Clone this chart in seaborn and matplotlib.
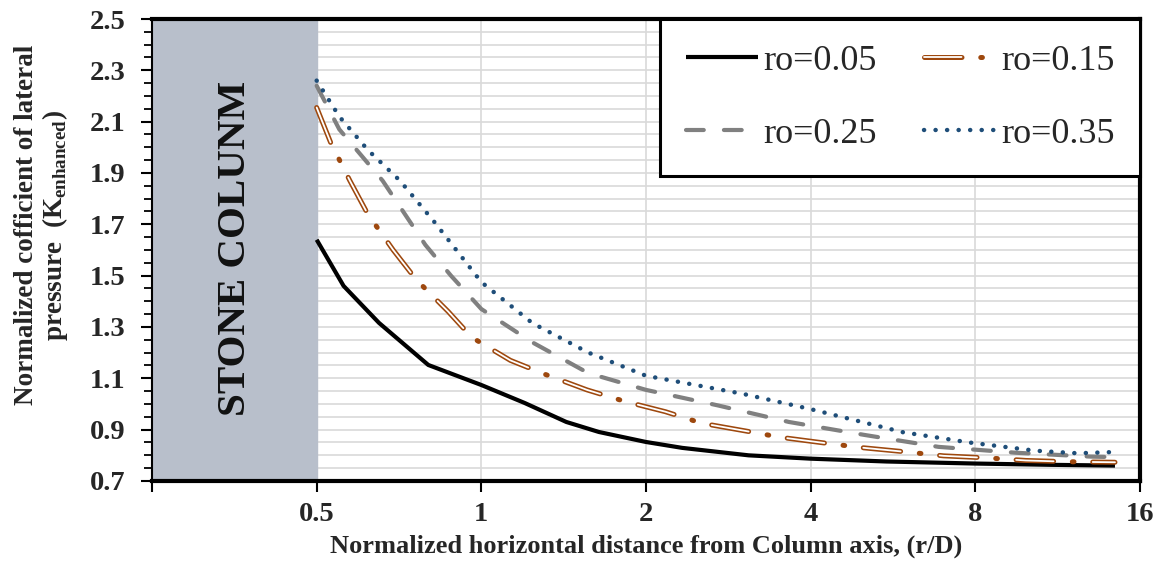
import numpy as np
import pandas as pd
import matplotlib
matplotlib.use("Agg")
import matplotlib.pyplot as plt
import seaborn as sns
from matplotlib.ticker import FixedLocator, FixedFormatter, MultipleLocator, NullLocator

# ---------------- data ----------------
x_005 = [0.5, 0.56, 0.65, 0.8, 1.0, 1.2, 1.43, 1.64, 2.0, 2.33, 3.08, 4.0, 5.5, 8.0, 11.0, 14.4]
k_005 = [1.64, 1.46, 1.316, 1.152, 1.074, 1.004, 0.93, 0.891, 0.852, 0.829, 0.80, 0.787, 0.776, 0.768, 0.763, 0.76]

x_015 = [0.5, 0.53, 0.575, 0.62, 0.69, 0.76, 0.87, 0.96, 1.13, 1.31, 1.56, 1.83, 2.17, 2.53,
         3.04, 3.53, 4.24, 4.96, 6.0, 7.0, 8.4, 9.9, 11.9, 14.4]
k_015 = [2.155, 2.02, 1.87, 1.74, 1.60, 1.485, 1.36, 1.26, 1.17, 1.115, 1.055, 1.01, 0.97, 0.925,
         0.895, 0.87, 0.848, 0.83, 0.813, 0.798, 0.79, 0.78, 0.775, 0.773]

x_025 = [0.5, 0.55, 0.66, 0.79, 0.88, 1.0, 1.24, 1.57, 2.0, 2.7, 3.65, 5.0, 6.85, 9.5, 13.0, 14.4]
k_025 = [2.24, 2.07, 1.87, 1.62, 1.50, 1.37, 1.24, 1.12, 1.055, 0.995, 0.93, 0.88, 0.833, 0.81, 0.795, 0.793]

x_035 = [0.5, 0.55, 0.62, 0.71, 0.82, 1.0, 1.24, 1.57, 2.0, 3.0, 4.0, 5.9, 7.8, 10.3, 12.3, 14.4]
k_035 = [2.26, 2.12, 1.99, 1.87, 1.71, 1.475, 1.315, 1.20, 1.11, 1.04, 0.98, 0.89, 0.85, 0.818, 0.808, 0.813]

series_labels = ["ro=0.05", "ro=0.15", "ro=0.25", "ro=0.35"]
x_ticks = [0.25, 0.5, 1, 2, 4, 8, 16]
x_tick_labels = ["", "0.5", "1", "2", "4", "8", "16"]
y_ticks = [0.7, 0.9, 1.1, 1.3, 1.5, 1.7, 1.9, 2.1, 2.3, 2.5]
y_tick_labels = ["0.7", "0.9", "1.1", "1.3", "1.5", "1.7", "1.9", "2.1", "2.3", "2.5"]
column_label = "STONE COLUNM"

# ---------------- style ----------------
sns.set_theme(style="white")
plt.rcParams["font.family"] = ["Liberation Serif", "DejaVu Serif"]
plt.rcParams["mathtext.fontset"] = "custom"
plt.rcParams["mathtext.rm"] = "Liberation Serif"
plt.rcParams["mathtext.bf"] = "Liberation Serif:bold"
plt.rcParams["lines.scale_dashes"] = False

c_black = "#000000"
c_brown = "#9e480e"
c_gray = "#808080"
c_blue = "#1f4e79"

fig = plt.figure(figsize=(11.62, 5.67), dpi=100)
ax = fig.add_axes([0.13081, 0.15168, 0.85026, 0.81481])
ax.set_xscale("log", base=2)

df005 = pd.DataFrame({"x": x_005, "k": k_005})
df015 = pd.DataFrame({"x": x_015, "k": k_015})
df025 = pd.DataFrame({"x": x_025, "k": k_025})
df035 = pd.DataFrame({"x": x_035, "k": k_035})

sns.lineplot(data=df005, x="x", y="k", ax=ax, color=c_black, lw=3.0,
             estimator=None, errorbar=None, solid_capstyle="butt", zorder=4)
h005 = ax.lines[-1]

brown_pat = (0, (27, 13.5, 1.2, 13.5))
sns.lineplot(data=df015, x="x", y="k", ax=ax, color=c_brown, lw=3.6, linestyle=brown_pat,
             dash_capstyle="round", estimator=None, errorbar=None, zorder=4)
h015a = ax.lines[-1]
sns.lineplot(data=df015, x="x", y="k", ax=ax, color="white", lw=1.3, linestyle=(0, (27, 28.2)),
             dash_capstyle="round", estimator=None, errorbar=None, zorder=4.1)
h015b = ax.lines[-1]

sns.lineplot(data=df025, x="x", y="k", ax=ax, color=c_gray, lw=3.0, linestyle=(0, (12.8, 14.5)),
             dash_capstyle="round", estimator=None, errorbar=None, zorder=4)
h025 = ax.lines[-1]

sns.lineplot(data=df035, x="x", y="k", ax=ax, color=c_blue, lw=3.2, linestyle=(0, (0.1, 8.2)),
             dash_capstyle="round", estimator=None, errorbar=None, zorder=4)
h035 = ax.lines[-1]

# stone column shading
ax.axvspan(0.25, 0.5, color="#b8bfcb", zorder=1)
ax.text(0.356, 1.608, column_label, rotation=90, ha="center", va="center",
        fontsize=29.5, fontweight="bold", color="#111111", zorder=3)

# axes limits, ticks
ax.set_xlim(0.25, 16)
ax.set_ylim(0.7, 2.5)
ax.xaxis.set_major_locator(FixedLocator(x_ticks))
ax.xaxis.set_major_formatter(FixedFormatter(x_tick_labels))
ax.xaxis.set_minor_locator(NullLocator())
ax.yaxis.set_major_locator(FixedLocator(y_ticks))
ax.yaxis.set_major_formatter(FixedFormatter(y_tick_labels))
ax.yaxis.set_minor_locator(MultipleLocator(0.05))

ax.tick_params(axis="x", which="major", direction="out", length=8, width=1.5,
               color="black", labelsize=20.5, pad=7, bottom=True)
ax.tick_params(axis="y", which="major", direction="out", length=8, width=1.5,
               color="black", labelsize=20.5, pad=11, left=True)
ax.tick_params(axis="y", which="minor", direction="out", length=6, width=1.3,
               color="black", left=True)
for lab in ax.get_xticklabels() + ax.get_yticklabels():
    lab.set_fontweight("bold")

ax.set_axisbelow(True)
ax.grid(which="major", axis="x", color="#d9d9d9", lw=1.2)
ax.grid(which="both", axis="y", color="#d9d9d9", lw=1.2)

for side, lw in [("left", 1.5), ("bottom", 3.0), ("top", 3.0), ("right", 3.0)]:
    ax.spines[side].set_visible(True)
    ax.spines[side].set_color("black")
    ax.spines[side].set_linewidth(lw)

ax.set_xlabel("Normalized horizontal distance from Column axis, (r/D)",
              fontsize=19, fontweight="bold")
ax.xaxis.set_label_coords(0.5, -0.115)
ax.set_ylabel("Normalized cofficient of lateral\npressure  ($\\mathbf{K}_{\\mathbf{enhanced}}$)",
              fontsize=19.5, fontweight="bold", linespacing=1.05)
ax.yaxis.set_label_coords(-0.083, 0.554)

leg = ax.legend(handles=[h005, h025, (h015a, h015b), h035],
                labels=[series_labels[0], series_labels[2], series_labels[1], series_labels[3]],
                ncol=2, loc="upper right", bbox_to_anchor=(1.0, 1.0), borderaxespad=0.0,
                fontsize=26, frameon=True, fancybox=False, edgecolor="black", framealpha=1.0,
                handlelength=2.0, handletextpad=0.15, columnspacing=1.3, labelspacing=1.1,
                borderpad=0.7)
leg.get_frame().set_linewidth(2.2)
leg.set_zorder(10)

fig.savefig("out.png", dpi=100)
